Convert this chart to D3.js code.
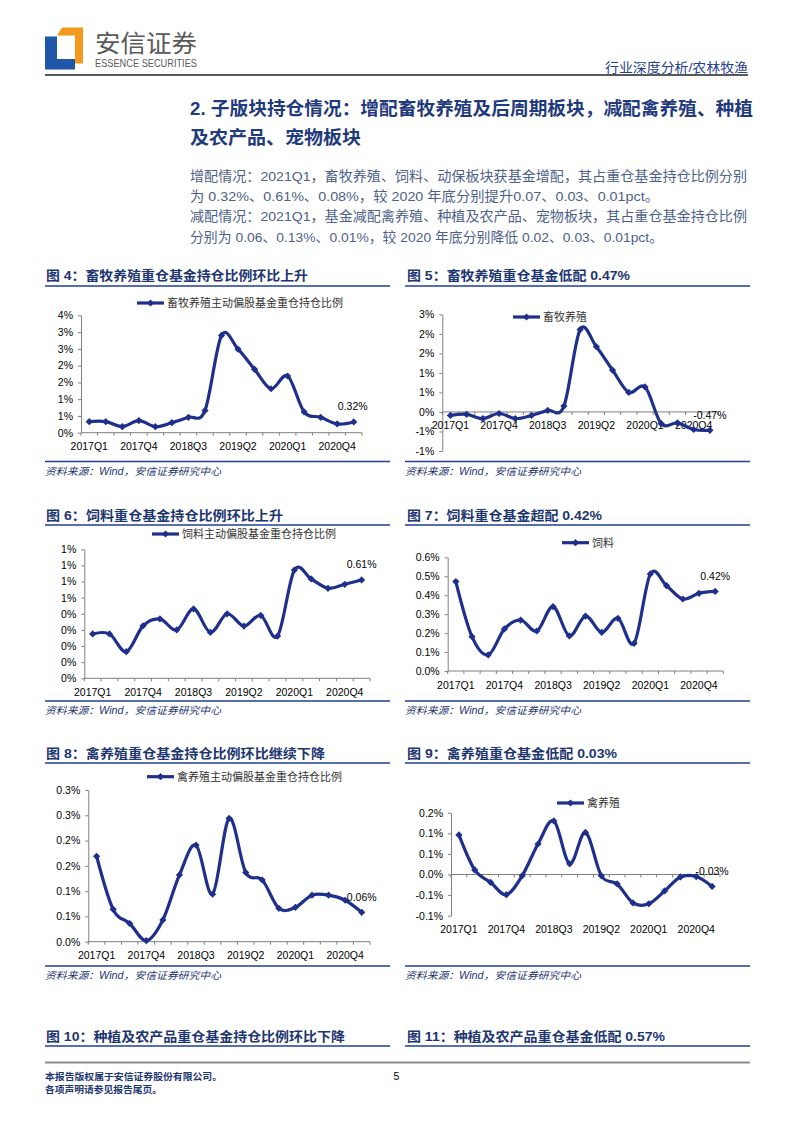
<!DOCTYPE html>
<html>
<head>
<meta charset="utf-8">
<script src="https://cdn.jsdelivr.net/npm/d3@7"></script>
<style>
  body { margin: 0; background: #fff; }
  svg text { font-family: "Liberation Sans", Arial, "Noto Sans CJK SC", sans-serif; }
</style>
</head>
<body>
<svg id="page" width="793" height="1122"></svg>
<script>
// quarters 2017Q1 .. 2021Q1
var quarters = ["2017Q1","2017Q2","2017Q3","2017Q4","2018Q1","2018Q2","2018Q3","2018Q4",
  "2019Q1","2019Q2","2019Q3","2019Q4","2020Q1","2020Q2","2020Q3","2020Q4","2021Q1"];
var tickQuarters = ["2017Q1","2017Q4","2018Q3","2019Q2","2020Q1","2020Q4"];

// values in %
var livestockHold = [0.33,0.33,0.18,0.36,0.18,0.30,0.46,0.66,2.90,2.49,1.89,1.31,1.69,0.62,0.46,0.26,0.32];
var livestockOver = [-0.09,-0.06,-0.17,-0.04,-0.17,-0.09,0.04,0.15,2.11,1.67,1.07,0.50,0.64,-0.30,-0.28,-0.45,-0.47];
var feedHold = [0.275,0.275,0.165,0.326,0.368,0.30,0.43,0.285,0.40,0.324,0.39,0.262,0.671,0.616,0.558,0.583,0.61];
var feedOver = [0.472,0.181,0.085,0.222,0.269,0.211,0.34,0.185,0.29,0.204,0.278,0.146,0.512,0.45,0.38,0.41,0.42];
var poultryHold = [0.169,0.064,0.036,0.002,0.043,0.132,0.191,0.094,0.244,0.137,0.122,0.066,0.068,0.092,0.092,0.082,0.058];
var poultryOver = [0.096,0.011,-0.019,-0.049,-0.003,0.074,0.13,0.026,0.102,-0.003,-0.023,-0.069,-0.071,-0.04,-0.006,-0.005,-0.029];

// y tick values (%)
var ticks4 = [0,0.5,1,1.5,2,2.5,3,3.5];
var ticks5 = [-1,-0.5,0,0.5,1,1.5,2,2.5];
var ticks6 = [0,0.1,0.2,0.3,0.4,0.5,0.6,0.7,0.8];
var ticks7 = [0,0.1,0.2,0.3,0.4,0.5,0.6];
var ticks8 = [0,0.05,0.1,0.15,0.2,0.25,0.3];
var ticks9 = [-0.1,-0.05,0,0.05,0.1,0.15];

var lastLabels = ["0.32%","-0.47%","0.61%","0.42%","0.06%","-0.03%"];

var navy = "#1d3570", blueLine = "#203f95", series = "#1f2f8c";

var svg = d3.select("#page");

// excel style rounding of tick labels
function pct(dec) {
  return function(v) {
    var p = Math.pow(10, dec);
    var r = Math.sign(v) * Math.round(Math.abs(v) * p + 1e-9) / p;
    return r.toFixed(dec) + "%";
  };
}

var diamond = {
  draw: function(ctx, size) {
    var r = Math.sqrt(size / 2);
    ctx.moveTo(0, -r); ctx.lineTo(r, 0); ctx.lineTo(0, r); ctx.lineTo(-r, 0); ctx.closePath();
  }
};

function lineChart(o) {
  var g = svg.append("g");
  var x = d3.scaleBand().domain(quarters).range([o.x0, o.x1]);
  var y = d3.scaleLinear().domain([o.ticks[0], o.ticks[o.ticks.length - 1]]).range([o.yBottom, o.yTop]);
  var cx = function(q) { return x(q) + x.bandwidth() / 2; };

  // y axis
  var ya = g.append("g").attr("transform", "translate(" + o.x0 + ",0)")
    .call(d3.axisLeft(y).tickValues(o.ticks).tickFormat(pct(o.dec)).tickSize(3).tickSizeOuter(0).tickPadding(5));
  ya.select(".domain").attr("stroke", "#7f7f7f");
  ya.selectAll(".tick line").attr("stroke", "#7f7f7f");
  ya.selectAll("text").attr("font-size", 10.5).attr("fill", "#000")
    .attr("font-family", "'Liberation Sans', Arial, sans-serif");

  // x axis at zero
  var zeroY = y(0);
  g.append("line").attr("x1", o.x0).attr("x2", o.x1).attr("y1", zeroY).attr("y2", zeroY)
    .attr("stroke", "#7f7f7f");
  var bounds = quarters.map(function(q) { return x(q); }).concat([o.x1]);
  g.selectAll(".xt").data(bounds).enter().append("line")
    .attr("x1", function(d) { return d; }).attr("x2", function(d) { return d; })
    .attr("y1", zeroY).attr("y2", zeroY + 3).attr("stroke", "#7f7f7f");
  var labY = y(o.labelAt) + 13.5;
  g.selectAll(".xl").data(tickQuarters).enter().append("text")
    .attr("x", cx).attr("y", labY).attr("text-anchor", "middle")
    .attr("dominant-baseline", "central").attr("font-size", 10.5).attr("fill", "#000")
    .text(function(d) { return d; });

  // series
  var line = d3.line()
    .x(function(d, i) { return cx(quarters[i]); })
    .y(function(d) { return y(d); })
    .curve(d3.curveCardinal.tension(0));
  g.append("path").datum(o.values).attr("d", line)
    .attr("fill", "none").attr("stroke", series).attr("stroke-width", 3.2)
    .attr("stroke-linejoin", "round");
  g.selectAll(".pt").data(o.values).enter().append("path")
    .attr("transform", function(d, i) { return "translate(" + cx(quarters[i]) + "," + y(d) + ")"; })
    .attr("d", d3.symbol(diamond, 26)).attr("fill", series);

  // last value label
  var last = o.values[o.values.length - 1];
  g.append("text").attr("x", cx(quarters[quarters.length - 1]) + o.labDx).attr("y", y(last) - 15.5)
    .attr("text-anchor", "middle").attr("dominant-baseline", "central")
    .attr("font-size", 10.5).attr("fill", "#000").text(o.label);

  // legend
  var lg = g.append("g");
  lg.append("line").attr("x1", o.legX).attr("x2", o.legX + 27).attr("y1", o.legY).attr("y2", o.legY)
    .attr("stroke", series).attr("stroke-width", 3.2);
  lg.append("path").attr("transform", "translate(" + (o.legX + 13.5) + "," + o.legY + ")")
    .attr("d", d3.symbol(diamond, 26)).attr("fill", series);
  lg.append("text").attr("x", o.legX + 30).attr("y", o.legY).attr("dominant-baseline", "central")
    .attr("font-size", 11).attr("fill", "#333").attr("font-family", "'Noto Sans CJK SC', sans-serif")
    .text(o.legend);
}

function title(x, y, w, txt, lineX0, lineX1, lineY) {
  svg.append("text").attr("x", x).attr("y", y).attr("dominant-baseline", "central")
    .attr("font-size", 13).attr("font-weight", "bold").attr("fill", navy)
    .attr("textLength", w).attr("lengthAdjust", "spacingAndGlyphs")
    .attr("font-family", "'Liberation Sans', 'Noto Sans CJK SC', sans-serif").text(txt);
  svg.append("line").attr("x1", lineX0).attr("x2", lineX1).attr("y1", lineY).attr("y2", lineY)
    .attr("stroke", blueLine).attr("stroke-width", 1.5);
}

function source(x0, x1, lineY) {
  svg.append("line").attr("x1", x0).attr("x2", x1).attr("y1", lineY).attr("y2", lineY)
    .attr("stroke", blueLine).attr("stroke-width", 1.5);
  svg.append("text").attr("x", x0).attr("y", lineY + 9.5).attr("dominant-baseline", "central")
    .attr("font-size", 10).attr("font-style", "italic").attr("fill", navy)
    .attr("textLength", 176).attr("lengthAdjust", "spacingAndGlyphs")
    .text("资料来源：Wind，安信证券研究中心");
}

// ---------- header ----------
svg.append("path").attr("d", "M45,36.5 H57 V59 H75 V69.5 H45 Z").attr("fill", "#1f56a8");
svg.append("path").attr("d", "M62,27.5 H83 V63.5 H75 V35.5 H57 Z").attr("fill", "#f39a1e");
svg.append("text").attr("x", 95).attr("y", 43).attr("dominant-baseline", "central")
  .attr("font-size", 24).attr("fill", "#5a5a5a").attr("font-family", "'Noto Sans CJK SC', sans-serif")
  .attr("textLength", 102).attr("lengthAdjust", "spacingAndGlyphs").text("安信证券");
svg.append("text").attr("x", 95).attr("y", 63.3).attr("dominant-baseline", "central")
  .attr("font-size", 10).attr("fill", "#5a5a5a").attr("textLength", 102).attr("lengthAdjust", "spacingAndGlyphs")
  .text("ESSENCE SECURITIES");
svg.append("text").attr("x", 748).attr("y", 67.5).attr("text-anchor", "end").attr("dominant-baseline", "central")
  .attr("font-size", 13).attr("fill", "#24408e").attr("font-family", "'Noto Sans CJK SC', sans-serif")
  .attr("textLength", 143).attr("lengthAdjust", "spacingAndGlyphs").text("行业深度分析/农林牧渔");
svg.append("line").attr("x1", 45).attr("x2", 748).attr("y1", 75).attr("y2", 75)
  .attr("stroke", "#222").attr("stroke-width", 1.3);

// ---------- section heading + text ----------
svg.append("text").attr("x", 190).attr("y", 108).attr("dominant-baseline", "central")
  .attr("font-size", 18.5).attr("font-weight", "bold").attr("fill", "#1f3a7d")
  .attr("textLength", 563).attr("lengthAdjust", "spacingAndGlyphs")
  .text("2. 子版块持仓情况：增配畜牧养殖及后周期板块，减配禽养殖、种植");
svg.append("text").attr("x", 190).attr("y", 137).attr("dominant-baseline", "central")
  .attr("font-size", 18.5).attr("font-weight", "bold").attr("fill", "#1f3a7d")
  .attr("font-family", "'Noto Sans CJK SC', sans-serif")
  .attr("textLength", 171).attr("lengthAdjust", "spacingAndGlyphs")
  .text("及农产品、宠物板块");

var para = [
  ["增配情况：2021Q1，畜牧养殖、饲料、动保板块获基金增配，其占重仓基金持仓比例分别", 176, 557],
  ["为 0.32%、0.61%、0.08%，较 2020 年底分别提升0.07、0.03、0.01pct。", 196.5, 469],
  ["减配情况：2021Q1，基金减配禽养殖、种植及农产品、宠物板块，其占重仓基金持仓比例", 216.5, 557],
  ["分别为 0.06、0.13%、0.01%，较 2020 年底分别降低 0.02、0.03、0.01pct。", 237, 473]
];
svg.selectAll(".para").data(para).enter().append("text")
  .attr("x", 190).attr("y", function(d) { return d[1]; }).attr("dominant-baseline", "central")
  .attr("font-size", 13.5).attr("fill", "#4d5f8a")
  .attr("textLength", function(d) { return d[2]; }).attr("lengthAdjust", "spacingAndGlyphs")
  .text(function(d) { return d[0]; });

// ---------- chart titles ----------
title(46, 275, 262, "图 4：畜牧养殖重仓基金持仓比例环比上升", 45, 390, 286);
title(407, 275, 223, "图 5：畜牧养殖重仓基金低配 0.47%", 405, 750, 286);
title(46, 515, 237, "图 6：饲料重仓基金持仓比例环比上升", 45, 390, 525);
title(407, 515, 195, "图 7：饲料重仓基金超配 0.42%", 405, 750, 525);
title(46, 753, 279, "图 8：禽养殖重仓基金持仓比例环比继续下降", 45, 390, 763);
title(407, 753, 210, "图 9：禽养殖重仓基金低配 0.03%", 405, 750, 763);
title(46, 1036.5, 299, "图 10：种植及农产品重仓基金持仓比例环比下降", 45, 390, 1046);
title(407, 1036.5, 258, "图 11：种植及农产品重仓基金低配 0.57%", 405, 750, 1046);

source(45, 390, 461.5); source(405, 750, 461.5);
source(45, 390, 701); source(405, 750, 701);
source(45, 390, 966); source(405, 750, 966);

// ---------- charts ----------
lineChart({ values: livestockHold, ticks: ticks4, dec: 0, x0: 81, x1: 362, yTop: 315.3, yBottom: 432.7,
  labelAt: 0, label: lastLabels[0], labDx: -1, legX: 137, legY: 303, legend: "畜牧养殖主动偏股基金重仓持仓比例" });
lineChart({ values: livestockOver, ticks: ticks5, dec: 0, x0: 442.3, x1: 718, yTop: 314.3, yBottom: 451,
  labelAt: 0, label: lastLabels[1], labDx: 0, legX: 513, legY: 317, legend: "畜牧养殖" });
lineChart({ values: feedHold, ticks: ticks6, dec: 0, x0: 84.3, x1: 370, yTop: 549.3, yBottom: 678.3,
  labelAt: 0, label: lastLabels[2], labDx: 0, legX: 152, legY: 534, legend: "饲料主动偏股基金重仓持仓比例" });
lineChart({ values: feedOver, ticks: ticks7, dec: 1, x0: 447.7, x1: 723.3, yTop: 557.3, yBottom: 671,
  labelAt: 0, label: lastLabels[3], labDx: 0, legX: 562, legY: 542.7, legend: "饲料" });
lineChart({ values: poultryHold, ticks: ticks8, dec: 1, x0: 88.3, x1: 370, yTop: 790, yBottom: 941.7,
  labelAt: 0, label: lastLabels[4], labDx: 0, legX: 147, legY: 776.7, legend: "禽养殖主动偏股基金重仓持仓比例" });
lineChart({ values: poultryOver, ticks: ticks9, dec: 1, x0: 451, x1: 720, yTop: 812.7, yBottom: 915.7,
  labelAt: -0.1, label: lastLabels[5], labDx: 0, legX: 557, legY: 803, legend: "禽养殖" });

// ---------- footer ----------
svg.append("line").attr("x1", 45).attr("x2", 750).attr("y1", 1062.5).attr("y2", 1062.5)
  .attr("stroke", "#8c8c8c").attr("stroke-width", 2.2);
svg.append("text").attr("x", 45).attr("y", 1076).attr("dominant-baseline", "central")
  .attr("font-size", 9.5).attr("font-weight", "bold").attr("fill", navy)
  .attr("textLength", 177).attr("lengthAdjust", "spacingAndGlyphs").text("本报告版权属于安信证券股份有限公司。");
svg.append("text").attr("x", 45).attr("y", 1089.5).attr("dominant-baseline", "central")
  .attr("font-size", 9.5).attr("font-weight", "bold").attr("fill", navy)
  .attr("textLength", 117).attr("lengthAdjust", "spacingAndGlyphs").text("各项声明请参见报告尾页。");
svg.append("text").attr("x", 396.5).attr("y", 1076).attr("text-anchor", "middle").attr("dominant-baseline", "central")
  .attr("font-size", 10.5).attr("fill", "#000").text("5");
</script>
</body>
</html>
